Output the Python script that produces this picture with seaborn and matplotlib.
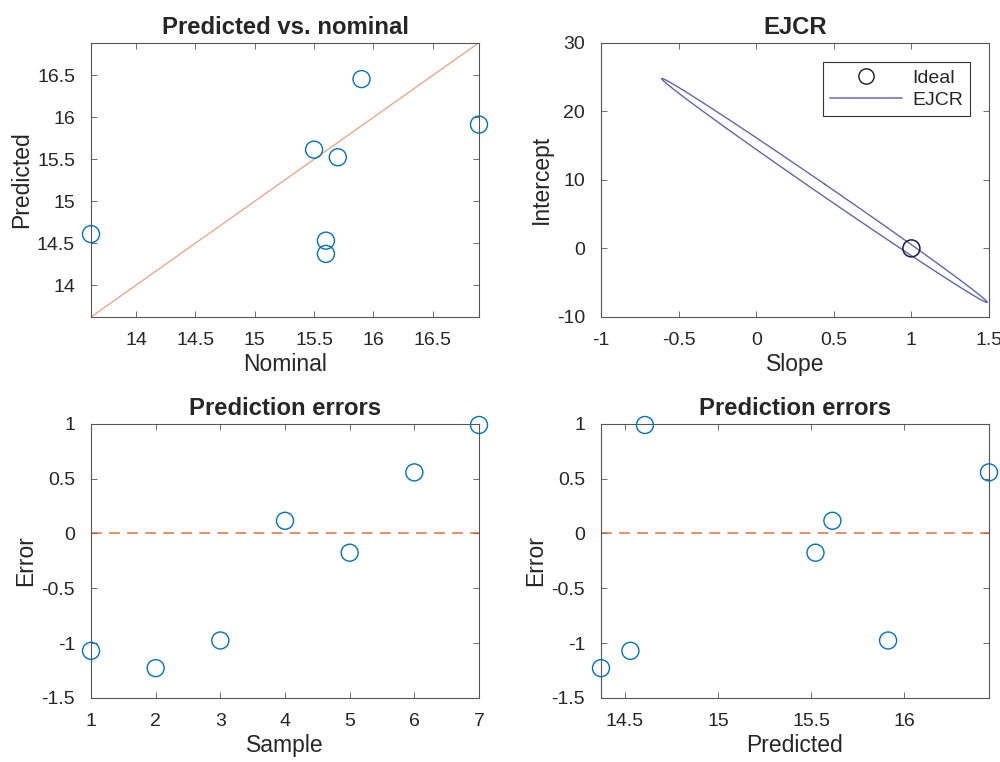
import numpy as np
import pandas as pd
import matplotlib
matplotlib.use("Agg")
import matplotlib.pyplot as plt
from matplotlib.ticker import FormatStrFormatter
from matplotlib.lines import Line2D
import seaborn as sns

# values
sample = [1, 2, 3, 4, 5, 6, 7]
nominal = [15.6, 15.6, 16.89, 15.5, 15.7, 15.9, 13.62]
predicted = [14.53, 14.372, 15.914, 15.615, 15.524, 16.456, 14.608]
f_crit = 5.786  # F(2, 5) at 95 %

df = pd.DataFrame({"sample": sample, "nominal": nominal, "predicted": predicted})
df["error"] = df["predicted"] - df["nominal"]

# joint confidence region of slope / intercept (predicted on nominal)
X = np.column_stack([np.ones(len(df)), df["nominal"]])
y = df["predicted"].to_numpy()
beta, res, _, _ = np.linalg.lstsq(X, y, rcond=None)
s2 = res[0] / (len(df) - 2)
L = np.linalg.cholesky(X.T @ X)
t = np.linspace(0, 2 * np.pi, 400)
circ = np.vstack([np.cos(t), np.sin(t)]) * np.sqrt(2 * s2 * f_crit)
pts = beta[:, None] + np.linalg.solve(L.T, circ)
ejcr = pd.DataFrame({"intercept": pts[0], "slope": pts[1]})

sns.set_theme(style="ticks")
plt.rcParams["font.family"] = ["Liberation Sans", "DejaVu Sans"]
plt.rcParams.update({
    "axes.unicode_minus": False,
    "xtick.direction": "in", "ytick.direction": "in",
    "xtick.top": True, "ytick.right": True,
    "xtick.major.size": 4, "ytick.major.size": 4,
    "xtick.major.width": 0.6, "ytick.major.width": 0.6,
    "axes.linewidth": 0.8, "axes.edgecolor": "#555555",
    "xtick.color": "#555555", "ytick.color": "#555555",
    "xtick.labelcolor": "#262626", "ytick.labelcolor": "#262626",
    "xtick.labelsize": 14, "ytick.labelsize": 14,
    "xtick.major.pad": 11, "ytick.major.pad": 11.5,
})

blue = "#0072BD"
orange = "#D95319"
ell_col = "#6464ac"

fig = plt.figure(figsize=(10, 7.62), dpi=100)
w, h = 0.388, 0.36
ax1 = fig.add_axes([0.091, 0.584, w, h])
ax2 = fig.add_axes([0.601, 0.584, w, h])
ax3 = fig.add_axes([0.091, 0.084, w, h])
ax4 = fig.add_axes([0.601, 0.084, w, h])

circ_kw = dict(marker="o", s=150, facecolors="none", edgecolors=blue, linewidths=1.0,
               clip_on=False, zorder=4)

# predicted vs nominal
lo, hi = df["nominal"].min(), df["nominal"].max()
sns.lineplot(x=[lo, hi], y=[lo, hi], ax=ax1, color=orange, linewidth=0.9, alpha=0.55)
sns.scatterplot(data=df, x="nominal", y="predicted", ax=ax1, **circ_kw)
ax1.set_xlim(lo, hi)
ax1.set_ylim(lo, hi)
ax1.set_xticks([14, 14.5, 15, 15.5, 16, 16.5])
ax1.set_yticks([14, 14.5, 15, 15.5, 16, 16.5])
ax1.set_title("Predicted vs. nominal")
ax1.set_xlabel("Nominal")
ax1.set_ylabel("Predicted")

# EJCR
ax2.plot(ejcr["slope"], ejcr["intercept"], color=ell_col, linewidth=1.0)
ax2.scatter([1], [0], marker="o", s=150, facecolors="none", edgecolors="#1a1a40",
            linewidths=1.1, zorder=3)
ax2.set_xlim(-1, 1.5)
ax2.set_ylim(-10, 30)
ax2.set_xticks([-1, -0.5, 0, 0.5, 1, 1.5])
ax2.set_yticks([-10, 0, 10, 20, 30])
ax2.set_title("EJCR")
ax2.set_xlabel("Slope")
ax2.set_ylabel("Intercept")
handles = [
    Line2D([], [], linestyle="none", marker="o", markersize=11, markerfacecolor="none",
           markeredgecolor="#1a1a1a", markeredgewidth=1.0),
    Line2D([], [], color="#8080c4", linewidth=1.3),
]
leg = ax2.legend(handles, ["Ideal", "EJCR"], loc="upper right", fontsize=14, fancybox=False,
                 edgecolor="#333333", framealpha=1, handlelength=3.7, borderaxespad=1.0,
                 borderpad=0.35, labelspacing=0.25, handletextpad=0.5)
leg.get_frame().set_linewidth(0.8)

# errors by sample and by predicted value
for ax, xcol in [(ax3, "sample"), (ax4, "predicted")]:
    ax.axhline(0, color=orange, linestyle=(0, (6, 4)), linewidth=1.3, alpha=0.7)
    sns.scatterplot(data=df, x=xcol, y="error", ax=ax, **circ_kw)
    ax.set_ylim(-1.5, 1)
    ax.set_yticks([-1.5, -1, -0.5, 0, 0.5, 1])
    ax.set_title("Prediction errors")
    ax.set_ylabel("Error")

ax3.set_xlim(1, 7)
ax3.set_xticks(sample)
ax3.set_xlabel("Sample")
ax4.set_xlim(df["predicted"].min(), df["predicted"].max())
ax4.set_xticks([14.5, 15, 15.5, 16])
ax4.set_xlabel("Predicted")

for ax in (ax1, ax2, ax3, ax4):
    ax.xaxis.set_major_formatter(FormatStrFormatter("%g"))
    ax.yaxis.set_major_formatter(FormatStrFormatter("%g"))
    ax.title.set_fontsize(17.2)
    ax.title.set_fontweight("bold")
    ax.xaxis.label.set_fontsize(16.5)
    ax.yaxis.label.set_fontsize(16.5)
    ax.xaxis.labelpad = 3
    ax.yaxis.labelpad = 3
    for sp in ax.spines.values():
        sp.set_visible(True)

fig.savefig("out.png", dpi=100)
